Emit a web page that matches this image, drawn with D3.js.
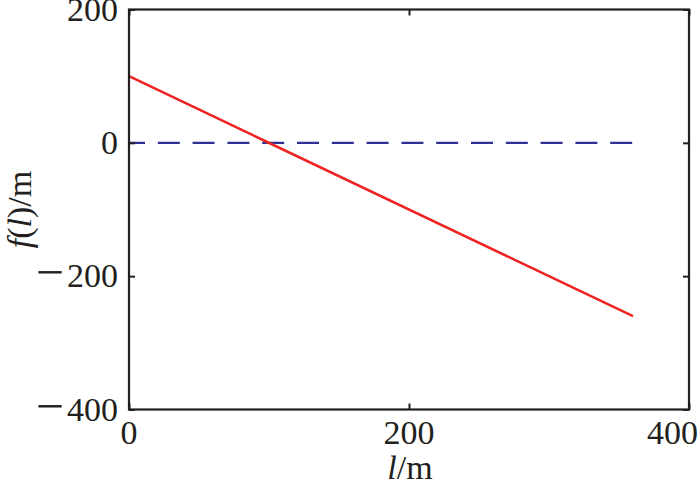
<!DOCTYPE html>
<html>
<head>
<meta charset="utf-8">
<script src="https://cdn.jsdelivr.net/npm/d3@7"></script>
<style>
  body { margin: 0; background: #fff; }
  text { font-family: "Liberation Serif", "Times New Roman", serif; fill: #231f20; }
</style>
</head>
<body>
<svg width="700" height="484"></svg>
<script>
// data
var lValues = [0, 360];          // l / m
var fValues = [100, -260];       // f(l) / m
var zeroValues = [0, 0];         // reference line f = 0
var xTicks = [0, 200, 400];
var yTicks = [200, 0, -200, -400];

var svg = d3.select("svg");
var plotL = 129, plotR = 689, plotT = 9.5, plotB = 409.5;
var axisColor = "#231f20";
var fontSize = "34px";

var x = d3.scaleLinear().domain([0, 400]).range([plotL, plotR]);
var y = d3.scaleLinear().domain([-400, 200]).range([plotB, plotT]);

var line = d3.line()
    .x(function(d) { return x(d[0]); })
    .y(function(d) { return y(d[1]); });

// blue dashed zero line
svg.append("path")
    .attr("d", line(d3.zip(lValues, zeroValues)))
    .attr("fill", "none")
    .attr("stroke", "#2e3192")
    .attr("stroke-width", 2.2)
    .attr("stroke-dasharray", "22,12.8")
    .attr("stroke-dashoffset", 6);

// red f(l)
svg.append("path")
    .attr("d", line(d3.zip(lValues, fValues)))
    .attr("fill", "none")
    .attr("stroke", "#ee2424")
    .attr("stroke-width", 2.6);

// frame
svg.append("rect")
    .attr("x", plotL).attr("y", plotT)
    .attr("width", plotR - plotL).attr("height", plotB - plotT)
    .attr("fill", "none")
    .attr("stroke", axisColor)
    .attr("stroke-width", 2.2);

// inward ticks, mirrored
var tk = 6;
var axes = [
  d3.axisBottom(x).tickValues(xTicks).tickSize(-tk).tickFormat(""),
  d3.axisTop(x).tickValues(xTicks).tickSize(-tk).tickFormat(""),
  d3.axisLeft(y).tickValues(yTicks).tickSize(-tk).tickFormat(""),
  d3.axisRight(y).tickValues(yTicks).tickSize(-tk).tickFormat("")
];
var pos = ["translate(0," + plotB + ")", "translate(0," + plotT + ")",
           "translate(" + plotL + ",0)", "translate(" + plotR + ",0)"];
axes.forEach(function(a, i) {
  var g = svg.append("g").attr("transform", pos[i]).call(a);
  g.select(".domain").remove();
  g.selectAll(".tick line").attr("stroke", axisColor).attr("stroke-width", 2);
});

// tick labels; the minus is drawn bigger, as in the reference
svg.selectAll(".ylab")
    .data(yTicks)
  .enter().append("text")
    .attr("class", "ylab")
    .attr("x", plotL - 11)
    .attr("y", function(d) { return y(d) + 11; })
    .attr("text-anchor", "end")
    .style("font-size", fontSize)
    .each(function(d) {
      var t = d3.select(this);
      if (d < 0) {
        t.append("tspan").style("font-size", "50px").attr("dy", 2).text("\u2212");
        t.append("tspan").attr("dy", -2).attr("dx", 3).text(Math.abs(d));
      } else {
        t.text(d);
      }
    });

svg.selectAll(".xlab")
    .data(xTicks)
  .enter().append("text")
    .attr("class", "xlab")
    .attr("x", function(d) { return d === 400 ? 698 : x(d); })
    .attr("y", 444)
    .attr("text-anchor", function(d) { return d === 400 ? "end" : "middle"; })
    .style("font-size", fontSize)
    .text(function(d) { return d; });

// axis titles
var xt = svg.append("text")
    .attr("x", 410).attr("y", 479)
    .attr("text-anchor", "middle")
    .style("font-size", fontSize);
xt.append("tspan").style("font-style", "italic").text("l");
xt.append("tspan").text("/m");

var yt = svg.append("text")
    .attr("transform", "translate(31," + ((plotT + plotB) / 2) + ") rotate(-90)")
    .attr("text-anchor", "middle")
    .style("font-size", fontSize);
yt.append("tspan").style("font-style", "italic").text("f");
yt.append("tspan").text("(");
yt.append("tspan").style("font-style", "italic").text("l");
yt.append("tspan").text(")/m");
</script>
</body>
</html>
